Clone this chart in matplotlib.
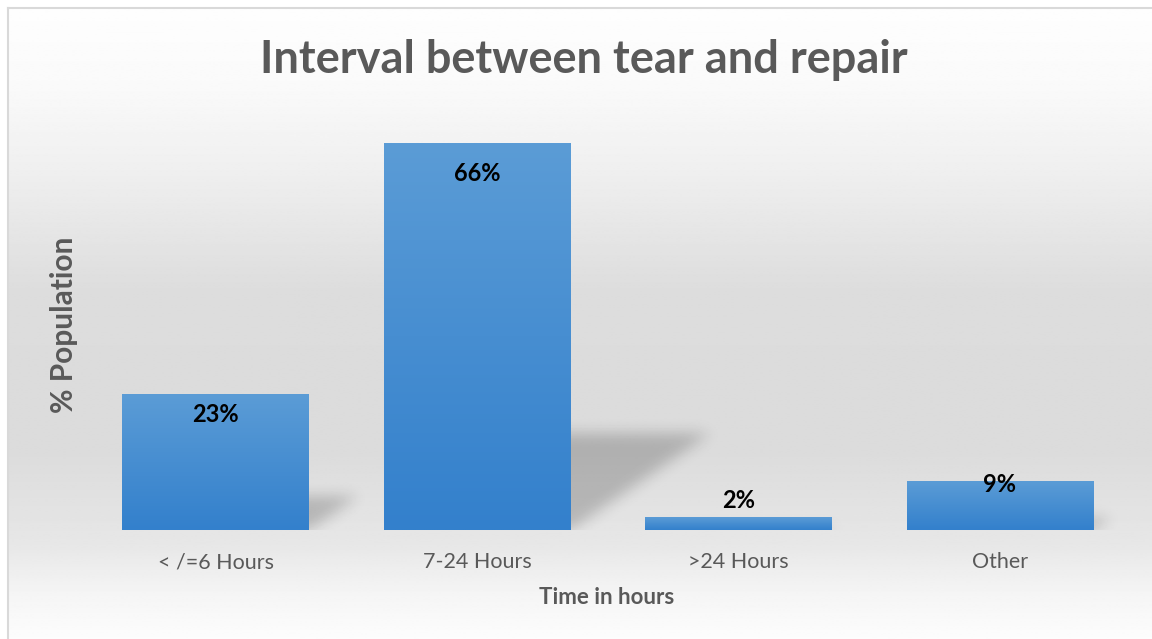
import numpy as np
import matplotlib.pyplot as plt
from matplotlib.lines import Line2D

# data
categories = ['< /=6 Hours', '7-24 Hours', '>24 Hours', 'Other']
population = [23.2, 66, 2.2, 8.3]
value_labels = ['23%', '66%', '2%', '9%']

W, H = 1152, 639
fig = plt.figure(figsize=(W / 100, H / 100), dpi=100)
fig.patch.set_facecolor('white')

# background: light grey band in the middle fading to white top and bottom
bg = fig.add_axes([8 / W, 0, 1 - 8 / W, 1 - 8 / H])
bg.set_axis_off()
t = np.linspace(0, 1, 400)
grey = np.interp(t, [0, 0.12, 0.25, 0.45, 0.7, 0.85, 0.93, 1.0],
                 [0.995, 0.98, 0.94, 0.865, 0.86, 0.905, 0.96, 0.99])
bg.imshow(np.repeat(grey[:, None], 2, axis=1), cmap='gray', vmin=0, vmax=1,
          aspect='auto', extent=[0, 1, 0, 1], interpolation='bilinear')
bg.set_xlim(0, 1)
bg.set_ylim(0, 1)

# frame lines on top and left
fig.add_artist(Line2D([7.5 / W, 1], [1 - 7.5 / H] * 2, color='#d9d9d9', lw=1.5))
fig.add_artist(Line2D([7.5 / W] * 2, [0, 1 - 7.5 / H], color='#d9d9d9', lw=1.5))

base_px = 530
top_px = 120
left_px, right_px = 84.75, 1130.75
ax = fig.add_axes([left_px / W, (H - base_px) / H, (right_px - left_px) / W,
                   (base_px - top_px) / H])
ax.set_facecolor('none')
ymax = 70
for s in ax.spines.values():
    s.set_visible(False)
ax.set_yticks([])

x = np.arange(len(categories))
width = 0.715

# blurred perspective shadows, rasterised in pixel space
nx, ny = int(right_px - left_px), int(base_px - top_px)
px_per_x = nx / 4
px_per_y = ny / ymax
gx, gy = np.meshgrid(np.arange(nx) + 0.5, np.arange(ny) + 0.5)
mask = np.zeros((ny, nx))
for xi, v in zip(x, population):
    h = v * px_per_y
    hs = 0.25 * h
    dx = 0.36 * h
    x0 = (xi - width / 2 + 0.5) * px_per_x
    x1 = (xi + width / 2 + 0.5) * px_per_x
    shift = dx * gy / hs
    inside = (gy <= hs) & (gx >= x0 + shift + 8) & (gx <= x1 + shift)
    mask[inside] = 1.0
sig = 7
k = np.exp(-0.5 * (np.arange(-3 * sig, 3 * sig + 1) / sig) ** 2)
k /= k.sum()
mask = np.apply_along_axis(lambda r: np.convolve(r, k, mode='same'), 1, mask)
mask = np.apply_along_axis(lambda c: np.convolve(c, k, mode='same'), 0, mask)
shadow = np.zeros((ny, nx, 4))
shadow[..., 3] = 0.2 * mask
ax.imshow(shadow, extent=[-0.5, 3.5, 0, ymax], origin='lower', aspect='auto',
          zorder=1, interpolation='bilinear')

bars = ax.bar(x, population, width=width, color='#4a8fd3', zorder=2)

# vertical gradient in each bar
grad = np.linspace(0, 1, 256)[:, None]
top_c = np.array([0x5b, 0x9c, 0xd6]) / 255
bot_c = np.array([0x33, 0x80, 0xcc]) / 255
img = top_c * (1 - grad[..., None]) + bot_c * grad[..., None]
img = np.repeat(img, 2, axis=1)
for b in bars:
    im = ax.imshow(img, extent=[b.get_x(), b.get_x() + b.get_width(), 0, b.get_height()],
                   aspect='auto', zorder=3, interpolation='bilinear')
    im.set_clip_path(b)
ax.set_xlim(-0.5, 3.5)
ax.set_ylim(0, ymax)

# value labels
offsets = [-20, -30, 17, -3]
for xi, v, lab, off in zip(x, population, value_labels, offsets):
    ax.annotate(lab, (xi, v), xytext=(0, off * 0.72), textcoords='offset points',
                ha='center', va='center', fontsize=17, fontweight='bold',
                color='black', family='Lato', zorder=5)

ax.set_xticks(x)
ax.set_xticklabels(categories, fontsize=15.5, color='#595959', family='Lato')
ax.tick_params(axis='x', length=0, pad=16)

fig.text(584 / W, 1 - 60 / H, 'Interval between tear and repair', ha='center',
         va='center', fontsize=32.5, fontweight='bold', color='#595959', family='Lato')
fig.text(607 / W, 1 - 597 / H, 'Time in hours', ha='center', va='center',
         fontsize=16, fontweight='bold', color='#595959', family='Lato')
fig.text(64 / W, 1 - 325 / H, '% Population', ha='center', va='center',
         rotation=90, fontsize=21.5, fontweight='bold', color='#595959', family='Lato')

fig.savefig('out.png', dpi=100)
